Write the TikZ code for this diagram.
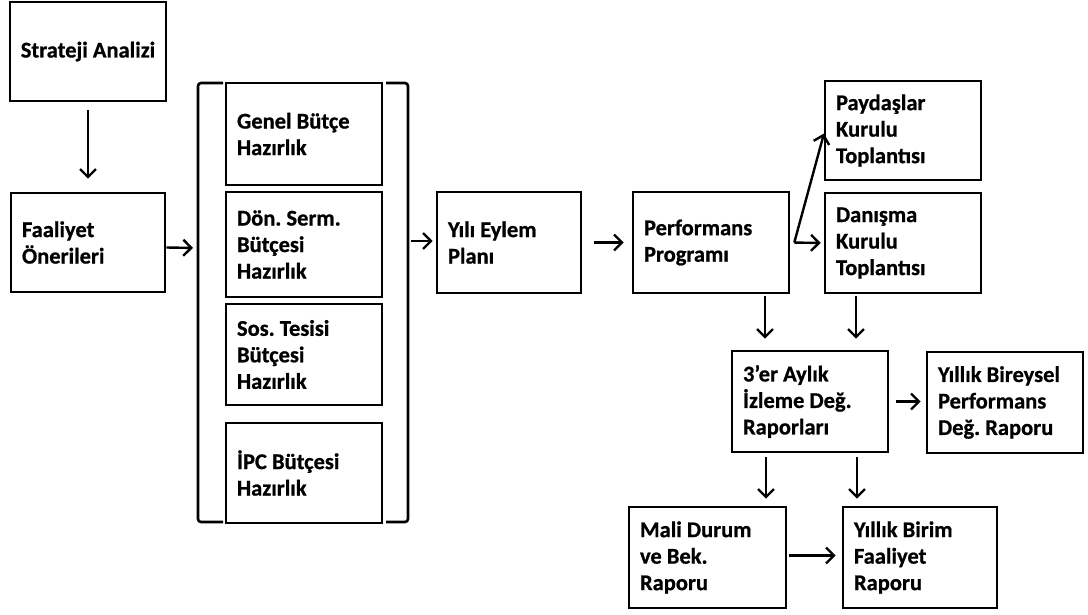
\documentclass[tikz,border=0pt]{standalone}
\usepackage{fontspec}
\setmainfont{Carlito}[BoldFeatures={FakeBold=0.8}]
\usetikzlibrary{arrows.meta}
\frenchspacing
\tikzset{
  box/.style={draw, line width=2.6pt, inner xsep=11pt, inner ysep=0pt, align=flush left,
    font=\bfseries\fontsize{22.5}{26.5}\selectfont\frenchspacing},
  arr/.style={line width=2.4pt, -{Straight Barb[length=8pt,width=16pt,line width=2.4pt]}},
  brk/.style={line width=2.6pt, rounded corners=3pt}
}
\begin{document}
\begin{tikzpicture}[x=1pt,y=-1pt]
\useasboundingbox (0,0) rectangle (1088,614);
\node[box, minimum width=154, minimum height=99, align=center] (sa) at (88,51.5) {Strateji Analizi};
\node[box, text width=132, minimum height=99] (fa) at (88,242.5) {Faaliyet\\Önerileri};
\node[box, text width=134, minimum height=102] (gb) at (304,134) {Genel Bütçe\\Hazırlık};
\node[box, text width=134, minimum height=105] (ds) at (304,244.5) {Dön. Serm.\\Bütçesi\\Hazırlık};
\node[box, text width=134, minimum height=101] (st) at (304,354.5) {Sos. Tesisi\\Bütçesi\\Hazırlık};
\node[box, text width=134, minimum height=100] (ipc) at (304,473) {İPC Bütçesi\\Hazırlık};
\node[box, text width=122, minimum height=101] (ye) at (509,242.5) {Yılı Eylem\\Planı};
\node[box, text width=134, minimum height=101] (pp) at (711,242.5) {Performans\\Programı};
\node[box, text width=134, minimum height=99] (pk) at (903,130.5) {Paydaşlar\\Kurulu\\Toplantısı};
\node[box, text width=134, minimum height=100] (dk) at (903,243) {Danışma\\Kurulu\\Toplantısı};
\node[box, text width=134, minimum height=101] (ay) at (810,401.5) {3’er Aylık\\İzleme Değ.\\Raporları};
\node[box, text width=134, minimum height=101] (yb) at (1005,402.5) {Yıllık Bireysel\\Performans\\Değ. Raporu};
\node[box, text width=135, minimum height=101] (md) at (707.5,557.5) {Mali Durum\\ve Bek.\\Raporu};
\node[box, text width=132, minimum height=101] (yf) at (920,557.5) {Yıllık Birim\\Faaliyet\\Raporu};
% bracket
\draw[brk] (223,83) -- (198,83) -- (198,522) -- (223,522);
\draw[brk] (386,83) -- (408,83) -- (408,522) -- (386,522);
\coordinate (brL) at (198,248);
\coordinate (brR) at (408,241);
% arrows
\draw[arr, shorten <=8pt, shorten >=13pt] (sa.south) -- (fa.north);
\draw[arr, shorten >=5pt] ([yshift=-5pt]fa.east) -- (brL);
\draw[arr, shorten <=3pt, shorten >=3pt] (brR) -- (brR -| ye.west);
\draw[arr, shorten <=12pt, shorten >=8pt] (ye.east) -- (pp.west);
\draw[arr, shorten <=4pt, shorten >=3pt] (pp.east) -- (dk.west);
\draw[arr, shorten >=-1pt] ([xshift=4pt]pp.east) -- ([yshift=-4pt]pk.west);
\draw[arr, shorten <=2pt, shorten >=11pt] ([xshift=54pt]pp.south) coordinate (a1) -- (a1 |- ay.north);
\draw[arr, shorten <=2pt, shorten >=11pt] ([xshift=-47pt]dk.south) coordinate (a2) -- (a2 |- ay.north);
\draw[arr, shorten <=7pt, shorten >=5pt] (ay.east) -- (ay.east -| yb.west);
\draw[arr, shorten <=4pt, shorten >=7pt] ([xshift=-44pt]ay.south) coordinate (a3) -- (a3 |- md.north);
\draw[arr, shorten <=4pt, shorten >=7pt] ([xshift=47pt]ay.south) coordinate (a4) -- (a4 |- yf.north);
\draw[arr, shorten <=2pt, shorten >=6pt] ([yshift=2pt]md.east) -- ([yshift=2pt]md.east -| yf.west);
\end{tikzpicture}
\end{document}
